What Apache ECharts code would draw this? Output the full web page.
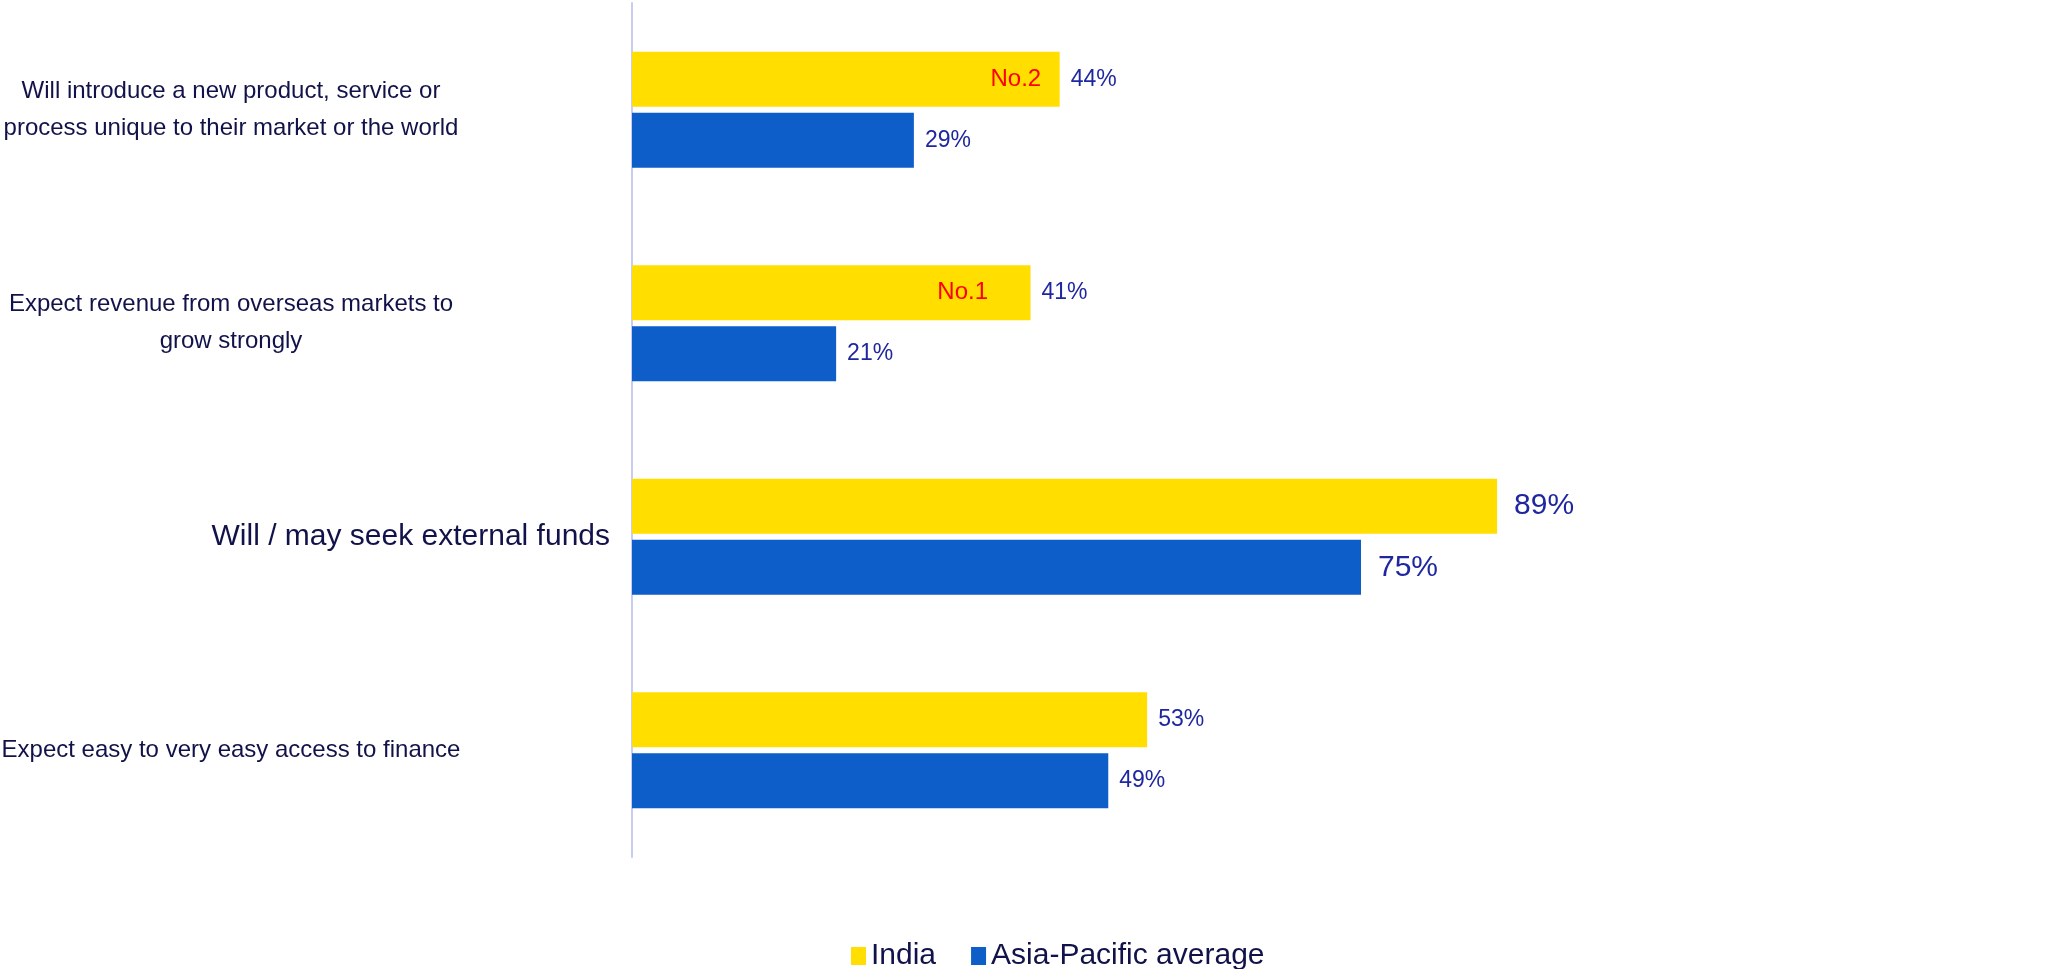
<!DOCTYPE html>
<html>
<head>
<meta charset="utf-8">
<style>
  html, body { margin: 0; padding: 0; background: #ffffff; }
  #chart { width: 2057px; height: 969px; }
</style>
<script src="https://cdn.jsdelivr.net/npm/echarts@6/dist/echarts.min.js"></script>
</head>
<body>
<div id="chart"></div>
<script>
// Survey statements (top to bottom)
const categories = [
  'Will introduce a new product, service or\nprocess unique to their market or the world',
  'Expect revenue from overseas markets to\ngrow strongly',
  'Will / may seek external funds',
  'Expect easy to very easy access to finance'
];
const seriesNames = ['India', 'Asia-Pacific average'];
// Share of respondents, %
const indiaValues = [44, 41, 89, 53];
const apacValues = [29, 21, 75, 49];
// India's regional ranking on the statement
const indiaRanks = ['No.2', 'No.1', '', ''];

// ---- styling ----
const NAVY = '#12124a';
const VALUE_BLUE = '#1f27a0';
const YELLOW = '#ffde00';
const BLUE = '#0e5ec9';
const FONT = '"Liberation Sans", Arial, sans-serif';
const WIDE_ROW = 2;                 // row set in larger type
const rankInset = [18, 42, 0, 0];   // gap between rank label and bar end

const wideValueLabel = { fontSize: 30, distance: 17 };

function barData(values) {
  return values.map((v, i) => i === WIDE_ROW ? { value: v, label: wideValueLabel } : v);
}

const rankMarks = indiaRanks
  .map((r, i) => r ? {
    coord: [indiaValues[i], i],
    label: { formatter: r, distance: rankInset[i] }
  } : null)
  .filter(Boolean);

// Category labels: lines centred in a fixed-width block left of the axis
function categoryLabel(value, index) {
  const style = index === WIDE_ROW ? 'w' : 'n';
  return String(value).split('\n').map(line => '{' + style + '|' + line + '}').join('\n');
}

const chart = echarts.init(document.getElementById('chart'), null, { renderer: 'canvas' });

const valueLabel = {
  show: true,
  position: 'right',
  distance: 11,
  formatter: '{c}%',
  fontFamily: FONT,
  fontSize: 23,
  color: VALUE_BLUE
};

chart.setOption({
  backgroundColor: '#ffffff',
  animation: false,
  grid: {
    left: 632, right: 453, top: 3, bottom: 112,
    containLabel: false,
    outerBoundsMode: 'none'
  },
  legend: {
    data: seriesNames,
    left: 846,
    top: 936,
    icon: 'rect',
    itemWidth: 15,
    itemHeight: 18,
    itemGap: 35,
    textStyle: { fontFamily: FONT, fontSize: 30, color: NAVY }
  },
  xAxis: {
    type: 'value',
    min: 0,
    max: 100,
    show: false,
    splitLine: { show: false }
  },
  yAxis: {
    type: 'category',
    inverse: true,
    data: categories,
    axisTick: { show: false },
    axisLine: { show: true, lineStyle: { color: '#c9cdf2', width: 2 } },
    axisLabel: {
      align: 'right',
      margin: 22,
      fontFamily: FONT,
      color: NAVY,
      formatter: categoryLabel,
      rich: {
        n: {
          fontFamily: FONT,
          fontSize: 24,
          lineHeight: 37,
          color: NAVY,
          width: 450,
          align: 'center',
          padding: [0, 154, 0, 0]
        },
        w: {
          fontFamily: FONT,
          fontSize: 30,
          lineHeight: 37,
          color: NAVY,
          align: 'center'
        }
      }
    }
  },
  series: [
    {
      name: seriesNames[0],
      type: 'bar',
      data: barData(indiaValues),
      barWidth: 55,
      barGap: '11%',
      itemStyle: { color: YELLOW },
      label: valueLabel,
      markPoint: {
        symbol: 'rect',
        symbolSize: 1,
        itemStyle: { color: 'rgba(0,0,0,0)' },
        label: {
          show: true,
          position: 'left',
          fontFamily: FONT,
          fontSize: 24,
          color: '#ff0000'
        },
        data: rankMarks
      }
    },
    {
      name: seriesNames[1],
      type: 'bar',
      data: barData(apacValues),
      barWidth: 55,
      barGap: '11%',
      itemStyle: { color: BLUE },
      label: valueLabel
    }
  ]
});
</script>
</body>
</html>
